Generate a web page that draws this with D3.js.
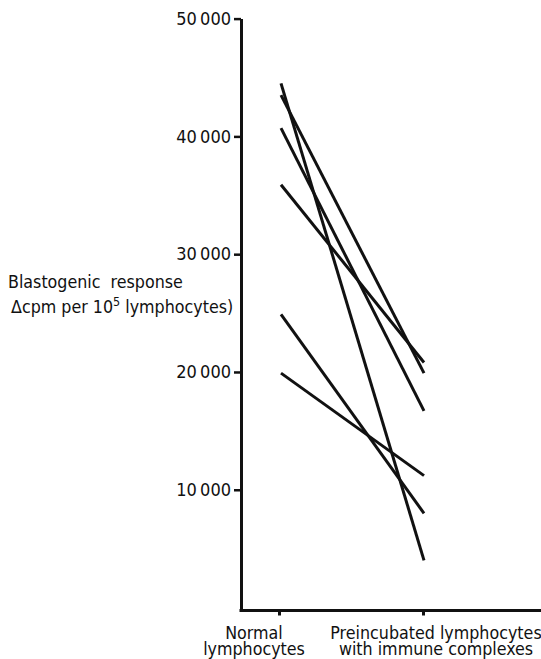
<!DOCTYPE html>
<html>
<head>
<meta charset="utf-8">
<script src="https://cdn.jsdelivr.net/npm/d3@7"></script>
<style>
  body { margin: 0; background: #fff; }
  text { font-family: "DejaVu Sans Condensed", "DejaVu Sans", sans-serif; font-stretch: condensed; fill: #111; }
</style>
</head>
<body>
<div id="chart"></div>
<script>
const WIDTH = 541
const HEIGHT = 659
const FONT = "DejaVu Sans Condensed, DejaVu Sans, sans-serif"

// the two groups on the x axis
const groups = ["Normal", "Preincubated"]
const groupLabels = [["Normal", "lymphocytes"], ["Preincubated lymphocytes", "with immune complexes"]]

// one value per subject, same order in both arrays
const normalValues = [44500, 43500, 40700, 35900, 24900, 19900]
const preincubatedValues = [4000, 19900, 16700, 20800, 8000, 11200]

const yTicks = [10000, 20000, 30000, 40000, 50000]

const svg = d3.select("#chart").append("svg")
    .attr("width", WIDTH)
    .attr("height", HEIGHT)

const y = d3.scaleLinear()
    .domain([-250, 50000])
    .range([610.5, 18.6])

const x = d3.scalePoint()
    .domain(groups)
    .range([279, 423])

const axisX0 = 241
const baseY = y(-250)

// y axis
const yAxis = svg.append("g")
    .attr("transform", "translate(" + axisX0 + ",0)")
    .call(d3.axisLeft(y)
        .tickValues(yTicks)
        .tickSize(7)
        .tickSizeOuter(0)
        .tickPadding(3)
        .tickFormat(d => d3.format(",")(d).replace(",", "\u2009")))
yAxis.select(".domain").attr("stroke", "#111").attr("stroke-width", 3)
yAxis.selectAll(".tick line").attr("stroke", "#111").attr("stroke-width", 2.5)
yAxis.selectAll(".tick text")
    .style("font-family", FONT)
    .style("font-size", "18px")
    .attr("fill", "#111")

// x axis (ticks only, the baseline is drawn longer than the scale)
const xAxis = svg.append("g")
    .attr("transform", "translate(0," + baseY + ")")
    .call(d3.axisBottom(x).tickSize(5).tickFormat(""))
xAxis.select(".domain").remove()
xAxis.selectAll(".tick line").attr("stroke", "#111").attr("stroke-width", 3)

svg.append("line")
    .attr("x1", axisX0 - 1.5)
    .attr("x2", WIDTH)
    .attr("y1", baseY)
    .attr("y2", baseY)
    .attr("stroke", "#111")
    .attr("stroke-width", 3)

// group labels, shifted a bit from the tick like in the original
const labelShift = [-25, 13]
groups.forEach((g, i) => {
    let t = svg.append("text")
        .attr("text-anchor", "middle")
        .style("font-size", "17.7px")
    groupLabels[i].forEach((line, j) => {
        t.append("tspan")
            .attr("x", x(g) + labelShift[i])
            .attr("y", 638.5 + j * 16.5)
            .text(line)
    })
})

// y axis title
const title = svg.append("text").style("font-size", "17.7px")
title.append("tspan").attr("x", 8).attr("y", 288).text("Blastogenic\u00a0\u00a0response")
const t2 = title.append("tspan").attr("x", 11).attr("y", 312.5)
t2.append("tspan").text("\u0394cpm per 10")
t2.append("tspan").attr("dy", -7).style("font-size", "12.5px").text("5")
t2.append("tspan").attr("dy", 7).text(" lymphocytes)")

// one line per subject
const pairs = normalValues.map((v, i) => [v, preincubatedValues[i]])
svg.append("g")
    .selectAll("line")
    .data(pairs)
    .join("line")
    .attr("x1", x(groups[0]) + 2)
    .attr("y1", d => y(d[0]))
    .attr("x2", x(groups[1]) + 1)
    .attr("y2", d => y(d[1]))
    .attr("stroke", "#111")
    .attr("stroke-width", 3)
</script>
</body>
</html>
